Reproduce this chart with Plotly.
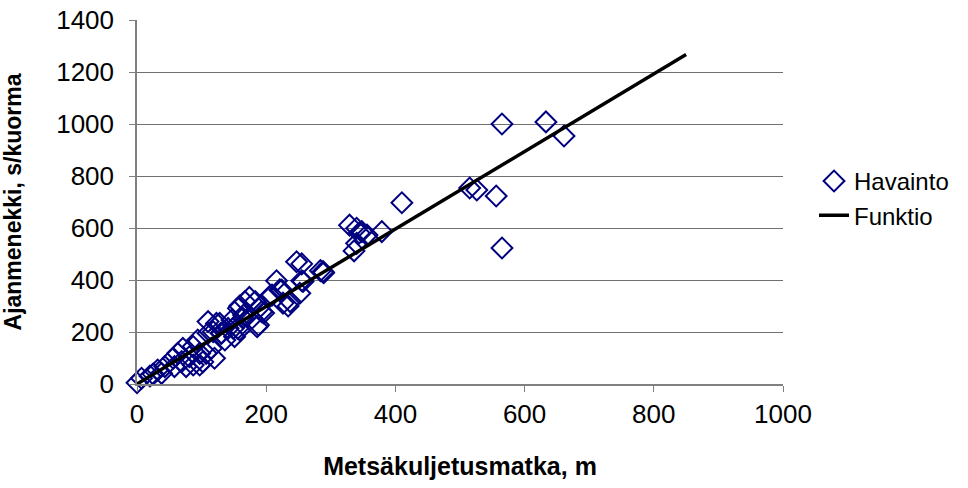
import plotly.graph_objects as go

# Observations: forwarding distance (m) and time consumption (s/load)
havainto_x = [0, 7, 20, 25, 32, 38, 43, 56, 58, 63, 69, 71, 76, 81, 87, 87, 94, 97,
              97, 102, 107, 110, 110, 115, 118, 120, 123, 128, 130, 131, 136, 141,
              147, 149, 151, 156, 157, 159, 159, 164, 165, 167, 174, 178, 183, 186,
              188, 188, 193, 196, 206, 209, 216, 221, 224, 226, 234, 237, 247, 252,
              255, 255, 257, 284, 289, 288, 329, 336, 340, 340, 344, 348, 356, 379,
              410, 515, 526, 556, 565, 565, 633, 661]
havainto_y = [5, 22, 31, 38, 54, 41, 67, 99, 67, 118, 86, 137, 67, 105, 144, 73,
              169, 73, 118, 85, 118, 195, 240, 137, 201, 99, 233, 233, 195, 195, 169,
              214, 246, 214, 182, 214, 291, 208, 300, 253, 265, 317, 333, 253, 317,
              220, 291, 227, 278, 273, 338, 342, 397, 362, 361, 311, 300, 317, 470,
              349, 462, 397, 394, 436, 428, 432, 611, 512, 599, 541, 581, 586, 573,
              586, 697, 754, 746, 723, 523, 1000, 1008, 954]

# Fitted function, drawn between its end points
funktio_x = [0, 850]
funktio_y = [0, 1267]

x_ticks = [0, 200, 400, 600, 800, 1000]
y_ticks = [0, 200, 400, 600, 800, 1000, 1200, 1400]

FONT = "Liberation Sans, Arial, sans-serif"

fig = go.Figure()
fig.add_trace(go.Scatter(
    x=havainto_x, y=havainto_y, mode="markers", name="Havainto",
    marker=dict(symbol="diamond-open", size=16, color="#000080",
                line=dict(width=2, color="#000080")),
    cliponaxis=False,
))
fig.add_trace(go.Scatter(
    x=funktio_x, y=funktio_y, mode="lines", name="Funktio",
    line=dict(color="black", width=3.5),
))

fig.update_layout(
    width=968, height=488,
    margin=dict(l=137, r=185, t=20, b=104),
    paper_bgcolor="white", plot_bgcolor="white",
    font=dict(family=FONT, size=26, color="black"),
    legend=dict(x=1.048, y=0.51, xanchor="left", yanchor="middle",
                font=dict(size=24), bgcolor="rgba(0,0,0,0)",
                borderwidth=0, tracegroupgap=0),
)
fig.update_xaxes(
    range=[0, 1000], tickvals=x_ticks, showgrid=False,
    showline=True, linecolor="#808080", linewidth=1.5,
    ticks="outside", ticklen=6, tickcolor="#808080",
    tickfont=dict(size=26), zeroline=False, automargin=False,
    title=dict(text="<b>Metsäkuljetusmatka, m</b>", font=dict(size=25),
               standoff=30),
)
fig.update_yaxes(
    range=[0, 1400], tickvals=y_ticks, showgrid=True,
    gridcolor="#707070", gridwidth=1,
    showline=True, linecolor="#808080", linewidth=1.5,
    ticks="outside", ticklen=6, tickcolor="#808080",
    tickfont=dict(size=26), zeroline=False, automargin=False,
    ticklabelstandoff=10,
    title=dict(text="<b>Ajanmenekki, s/kuorma</b>", font=dict(size=23),
               standoff=30),
)

fig.write_html("out.html")
